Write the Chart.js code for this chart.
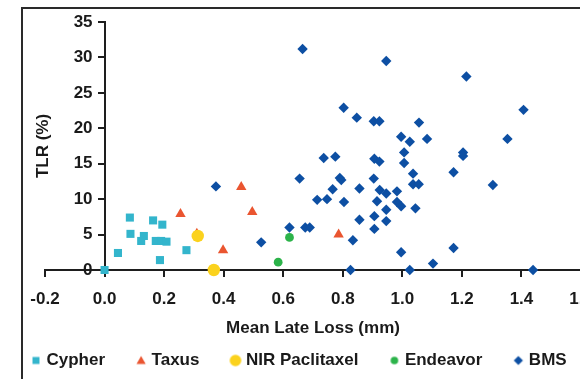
<!DOCTYPE html>
<html>
<head>
<meta charset="utf-8">
<script src="https://cdn.jsdelivr.net/npm/chart.js@4/dist/chart.umd.min.js"></script>
<style>
  html, body { margin: 0; padding: 0; background: #fff; overflow: hidden; }
  #wrap { position: relative; width: 580px; height: 379px; overflow: hidden; background: #fff; }
  #c { position: absolute; left: 0; top: 0; }
  #frame { position: absolute; left: 21px; top: 7px; width: 700px; height: 500px;
           border-left: 2px solid #2a2a2a; border-top: 2px solid #2a2a2a; pointer-events: none; }
</style>
</head>
<body>
<div id="wrap">
  <canvas id="c" width="600" height="379"></canvas>
  <div id="frame"></div>
</div>
<script>
// ---- data ----
const seriesNames = ['Cypher', 'Taxus', 'NIR Paclitaxel', 'Endeavor', 'BMS'];

const cypherX = [0.00, 0.045, 0.085, 0.087, 0.123, 0.132, 0.163, 0.194, 0.172, 0.19, 0.208, 0.186, 0.275];
const cypherY = [0.0, 2.4, 7.4, 5.1, 4.1, 4.8, 7.0, 6.4, 4.1, 4.1, 4.0, 1.4, 2.8];

const taxusX = [0.255, 0.31, 0.398, 0.459, 0.496, 0.786];
const taxusY = [7.9, 5.1, 2.8, 11.7, 8.2, 5.0];

const nirX = [0.313, 0.367];
const nirY = [4.8, 0.0];

const endeavorX = [0.583, 0.621];
const endeavorY = [1.1, 4.6];

const bmsX = [0.374, 0.526, 0.621, 0.665, 0.946, 0.803, 0.847, 0.904, 0.923, 1.056,
              0.996, 1.025, 1.083, 1.215, 1.407, 1.353, 1.204, 1.204, 0.736, 0.775,
              0.906, 0.923, 1.006, 1.006, 1.036, 1.036, 1.055, 0.655, 0.79, 0.795,
              0.904, 0.766, 0.856, 0.924, 0.946, 0.714, 0.747, 0.804, 0.915, 0.982,
              0.982, 0.996, 1.044, 0.946, 0.906, 0.856, 0.946, 0.906, 0.674, 0.689,
              0.834, 0.996, 0.826, 1.025, 1.172, 1.304, 1.172, 1.103, 1.439];
const bmsY = [11.8, 3.9, 6.0, 31.2, 29.5, 22.9, 21.5, 21.0, 21.0, 20.8,
              18.8, 18.1, 18.5, 27.3, 22.6, 18.5, 16.6, 16.1, 15.8, 16.0,
              15.7, 15.3, 16.6, 15.1, 13.6, 12.1, 12.1, 12.9, 13.0, 12.7,
              12.9, 11.4, 11.5, 11.3, 10.8, 9.9, 10.0, 9.6, 9.7, 11.1,
              9.6, 9.0, 8.7, 8.5, 7.6, 7.1, 6.9, 5.8, 6.0, 6.0,
              4.2, 2.5, 0.0, 0.0, 13.8, 12.0, 3.1, 0.9, 0.0];

const xTickLabels = ['-0.2', '0.0', '0.2', '0.4', '0.6', '0.8', '1.0', '1.2', '1.4', '1.6'];
const yTickLabels = ['0', '5', '10', '15', '20', '25', '30', '35'];
const xTitle = 'Mean Late Loss (mm)';
const yTitle = 'TLR (%)';

// ---- styling ----
const colors = ['#33b5cc', '#ea5530', '#fbd21d', '#2cb34a', '#0d4fa3'];
const textColor = '#1a1a1a';
const axisColor = '#1e1e1e';
const fontFamily = '"Liberation Sans", Arial, Helvetica, sans-serif';

function toPoints(xs, ys) { return xs.map((x, i) => ({ x: x, y: ys[i] })); }

// small legend markers, drawn near the right end of a wide transparent tile
function legendMarker(i) {
  const cv = document.createElement('canvas');
  cv.width = 50; cv.height = 20;
  const g = cv.getContext('2d');
  g.fillStyle = colors[i];
  const cx = 40, cy = 10;
  g.beginPath();
  if (i === 0) {
    g.rect(cx - 3.5, cy - 3.5, 7, 7);
  } else if (i === 1) {
    g.moveTo(cx, cy - 4.5); g.lineTo(cx + 4.6, cy + 3.5); g.lineTo(cx - 4.6, cy + 3.5); g.closePath();
  } else if (i === 2) {
    g.arc(cx, cy, 5.8, 0, Math.PI * 2);
  } else if (i === 3) {
    g.arc(cx, cy, 3.8, 0, Math.PI * 2);
  } else {
    g.moveTo(cx, cy - 4.6); g.lineTo(cx + 4.6, cy); g.lineTo(cx, cy + 4.6); g.lineTo(cx - 4.6, cy); g.closePath();
  }
  g.fill();
  return cv;
}

// rotated title for the value axis, left of the tick labels
const yTitlePlugin = {
  id: 'yTitle',
  afterDraw(chart) {
    const ctx = chart.ctx;
    const area = chart.chartArea;
    ctx.save();
    ctx.font = 'bold 17px ' + fontFamily;
    ctx.fillStyle = textColor;
    ctx.textAlign = 'center';
    ctx.textBaseline = 'middle';
    ctx.translate(43, (area.top + area.bottom) / 2);
    ctx.rotate(-Math.PI / 2);
    ctx.fillText(yTitle, 0, 0);
    ctx.restore();
  }
};

// the y axis sits at x = 0, so move its labels clear of the tick marks
const yLabelGap = {
  id: 'yLabelGap',
  beforeDraw(chart) {
    const items = chart.scales.y.getLabelItems();
    items.forEach(it => {
      if (!it._moved) { it.options.translation[0] -= 12; it._moved = true; }
    });
  }
};

Chart.defaults.font.family = fontFamily;
Chart.defaults.font.weight = 'bold';
Chart.defaults.font.size = 17;
Chart.defaults.color = textColor;

const pointStyles = ['rect', 'triangle', 'circle', 'circle', 'rectRot'];
const pointRadii = [5.7, 6, 6.2, 4.4, 5.2];
const seriesData = [
  toPoints(cypherX, cypherY),
  toPoints(taxusX, taxusY),
  toPoints(nirX, nirY),
  toPoints(endeavorX, endeavorY),
  toPoints(bmsX, bmsY)
];
// yellow circles sit on top of everything else
const drawOrder = [1, 2, 0, 3, 4];

const datasets = seriesNames.map((name, i) => ({
  label: name,
  data: seriesData[i],
  pointStyle: pointStyles[i],
  pointRadius: pointRadii[i],
  pointHoverRadius: pointRadii[i],
  backgroundColor: colors[i],
  borderColor: colors[i],
  borderWidth: 0,
  clip: false,
  order: drawOrder[i]
}));

new Chart(document.getElementById('c'), {
  type: 'scatter',
  data: { datasets: datasets },
  plugins: [yTitlePlugin, yLabelGap],
  options: {
    responsive: false,
    animation: false,
    devicePixelRatio: 1,
    events: [],
    layout: { autoPadding: false, padding: { left: 0, right: 0, top: 22, bottom: 0 } },
    plugins: {
      tooltip: { enabled: false },
      legend: {
        position: 'bottom',
        align: 'start',
        labels: {
          usePointStyle: true,
          pointStyleWidth: 34,
          padding: 4,
          color: textColor,
          font: { size: 17, weight: 'bold' },
          generateLabels: () => seriesNames.map((name, i) => ({
            text: name,
            fillStyle: colors[i],
            strokeStyle: colors[i],
            lineWidth: 0,
            pointStyle: legendMarker(i),
            hidden: false,
            datasetIndex: i,
            fontColor: textColor
          }))
        }
      }
    },
    scales: {
      x: {
        type: 'linear',
        position: 'bottom',
        min: -0.2,
        max: 1.6,
        ticks: {
          stepSize: 0.2,
          autoSkip: false,
          maxRotation: 0,
          minRotation: 0,
          padding: 12,
          color: textColor,
          font: { size: 17, weight: 'bold' },
          callback: (v, i) => xTickLabels[i]
        },
        grid: { display: true, drawOnChartArea: false, drawTicks: true, tickLength: 7, color: axisColor, lineWidth: 2 },
        border: { display: true, color: axisColor, width: 2 },
        title: { display: true, text: xTitle, color: textColor, font: { size: 17, weight: 'bold' }, padding: { top: 0, bottom: 9 } },
        afterFit(scale) { scale.paddingLeft = 45; scale.paddingRight = 19; scale.height = 78; }
      },
      y: {
        type: 'linear',
        position: { x: 0 },
        min: 0,
        max: 35,
        ticks: {
          stepSize: 5,
          padding: 6,
          color: textColor,
          font: { size: 17, weight: 'bold' },
          callback: (v, i) => yTickLabels[i]
        },
        grid: { display: true, drawOnChartArea: false, drawTicks: true, tickLength: 6, color: axisColor, lineWidth: 2 },
        border: { display: true, color: axisColor, width: 2 }
      }
    }
  }
});
</script>
</body>
</html>
